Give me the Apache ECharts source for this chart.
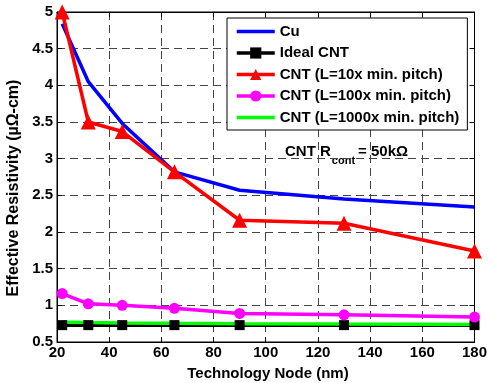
<!DOCTYPE html>
<html>
<head>
<meta charset="utf-8">
<script src="https://cdn.jsdelivr.net/npm/echarts@6/dist/echarts.min.js"></script>
<style>
  html, body { margin: 0; padding: 0; background: #fff; }
  #chart { width: 490px; height: 383px; }
</style>
</head>
<body>
<div id="chart"></div>
<script>
// Technology nodes (nm)
const nodes = [22, 32, 45, 65, 90, 130, 180];

// Effective resistivity (µΩ-cm) per interconnect type
const cu       = [4.84, 4.05, 3.48, 2.82, 2.57, 2.45, 2.34];
const idealCnt = [0.73, 0.73, 0.73, 0.73, 0.73, 0.73, 0.73];
const cnt10    = [5.00, 3.50, 3.37, 2.82, 2.16, 2.12, 1.74];
const cnt100   = [1.16, 1.02, 1.00, 0.96, 0.89, 0.87, 0.84];
const cnt1000  = [0.77, 0.765, 0.76, 0.755, 0.75, 0.745, 0.74];

const xTicks = [20, 40, 60, 80, 100, 120, 140, 160, 180];
const yTicks = [0.5, 1, 1.5, 2, 2.5, 3, 3.5, 4, 4.5, 5];

const FONT = 'Liberation Sans, Arial, Helvetica, sans-serif';

const pairs = vals => nodes.map((n, i) => [n, vals[i]]);

// plain line swatch for series drawn without markers
const LINE_ICON = 'path://M0,0H38V3.5H0Z';

const chart = echarts.init(document.getElementById('chart'), null, { renderer: 'canvas' });

const gridDash = { show: true, lineStyle: { color: '#444', type: [8, 5], width: 1 } };
const label = { color: '#000', fontFamily: FONT, fontWeight: 'bold', fontSize: 15 };

chart.setOption({
  animation: false,
  backgroundColor: '#fff',
  grid: { left: 57, right: 13, top: 12, bottom: 41, show: true, borderColor: '#000', borderWidth: 1 },
  xAxis: [
    {
      type: 'value', min: 20, max: 180, interval: 20,
      axisLine: { show: true, lineStyle: { color: '#000', width: 1 } },
      axisTick: { show: true, inside: true, length: 5, lineStyle: { color: '#000' } },
      axisLabel: Object.assign({ margin: 3, formatter: v => xTicks.includes(v) ? String(v) : '' }, label),
      splitLine: gridDash
    },
    {
      type: 'value', position: 'top', min: 20, max: 180, interval: 20,
      axisLine: { show: true, lineStyle: { color: '#000', width: 1 } },
      axisTick: { show: true, inside: true, length: 5, lineStyle: { color: '#000' } },
      axisLabel: { show: false }, splitLine: { show: false }
    }
  ],
  yAxis: [
    {
      type: 'value', min: 0.5, max: 5, interval: 0.5,
      axisLine: { show: true, lineStyle: { color: '#000', width: 1 } },
      axisTick: { show: true, inside: true, length: 5, lineStyle: { color: '#000' } },
      axisLabel: Object.assign({ margin: 4, formatter: v => String(yTicks.find(t => Math.abs(t - v) < 1e-9) ?? '') }, label),
      splitLine: gridDash
    },
    {
      type: 'value', position: 'right', min: 0.5, max: 5, interval: 0.5,
      axisLine: { show: true, lineStyle: { color: '#000', width: 1 } },
      axisTick: { show: true, inside: true, length: 5, lineStyle: { color: '#000' } },
      axisLabel: { show: false }, splitLine: { show: false }
    }
  ],
  legend: {
    orient: 'vertical',
    left: 227, top: 18,
    padding: [6, 8, 5, 8],
    itemWidth: 38, itemHeight: 14, itemGap: 6.5,
    backgroundColor: '#fff',
    borderColor: '#000', borderWidth: 1, borderRadius: 0,
    lineStyle: { width: 3.5 },
    textStyle: { color: '#000', fontFamily: FONT, fontWeight: 'bold', fontSize: 15 },
    data: [
      { name: 'Cu', icon: LINE_ICON },
      'Ideal CNT',
      'CNT (L=10x min. pitch)',
      'CNT (L=100x min. pitch)',
      { name: 'CNT (L=1000x min. pitch)', icon: LINE_ICON }
    ]
  },
  graphic: [
    {
      type: 'text', x: 14, y: 188, rotation: Math.PI / 2,
      style: {
        text: 'Effective Resistivity (µΩ-cm)',
        align: 'center', verticalAlign: 'middle',
        font: 'bold 16px ' + FONT, fill: '#000'
      }
    },
    {
      type: 'text', x: 268, y: 374,
      style: {
        text: 'Technology Node (nm)', align: 'center', verticalAlign: 'middle',
        font: 'bold 15px ' + FONT, fill: '#000'
      }
    },
    {
      type: 'text', x: 285, y: 151,
      style: {
        text: '{b|CNT R}{s|cont}{b|= 50kΩ}',
        verticalAlign: 'middle',
        rich: {
          b: { font: 'bold 15px ' + FONT, fill: '#000', verticalAlign: 'bottom', lineHeight: 17 },
          s: { font: 'bold 11px ' + FONT, fill: '#000', verticalAlign: 'bottom', lineHeight: 10, padding: [0, 3, -7, 1] }
        }
      }
    }
  ],
  series: [
    {
      name: 'Cu', type: 'line', data: pairs(cu),
      showSymbol: false, symbol: 'none',
      lineStyle: { color: '#0000ff', width: 3.5 }, itemStyle: { color: '#0000ff' }
    },
    {
      name: 'Ideal CNT', type: 'line', data: pairs(idealCnt),
      symbol: 'rect', symbolSize: 10,
      lineStyle: { color: '#000', width: 3.5 }, itemStyle: { color: '#000' }
    },
    {
      name: 'CNT (L=10x min. pitch)', type: 'line', data: pairs(cnt10),
      symbol: 'triangle', symbolSize: 15,
      lineStyle: { color: '#ff0000', width: 3.5 }, itemStyle: { color: '#ff0000' }
    },
    {
      name: 'CNT (L=100x min. pitch)', type: 'line', data: pairs(cnt100),
      symbol: 'circle', symbolSize: 11,
      lineStyle: { color: '#ff00ff', width: 3.5 }, itemStyle: { color: '#ff00ff' }
    },
    {
      name: 'CNT (L=1000x min. pitch)', type: 'line', data: pairs(cnt1000),
      showSymbol: false, symbol: 'none',
      lineStyle: { color: '#00ff00', width: 3.5 }, itemStyle: { color: '#00ff00' }
    }
  ]
});
</script>
</body>
</html>
